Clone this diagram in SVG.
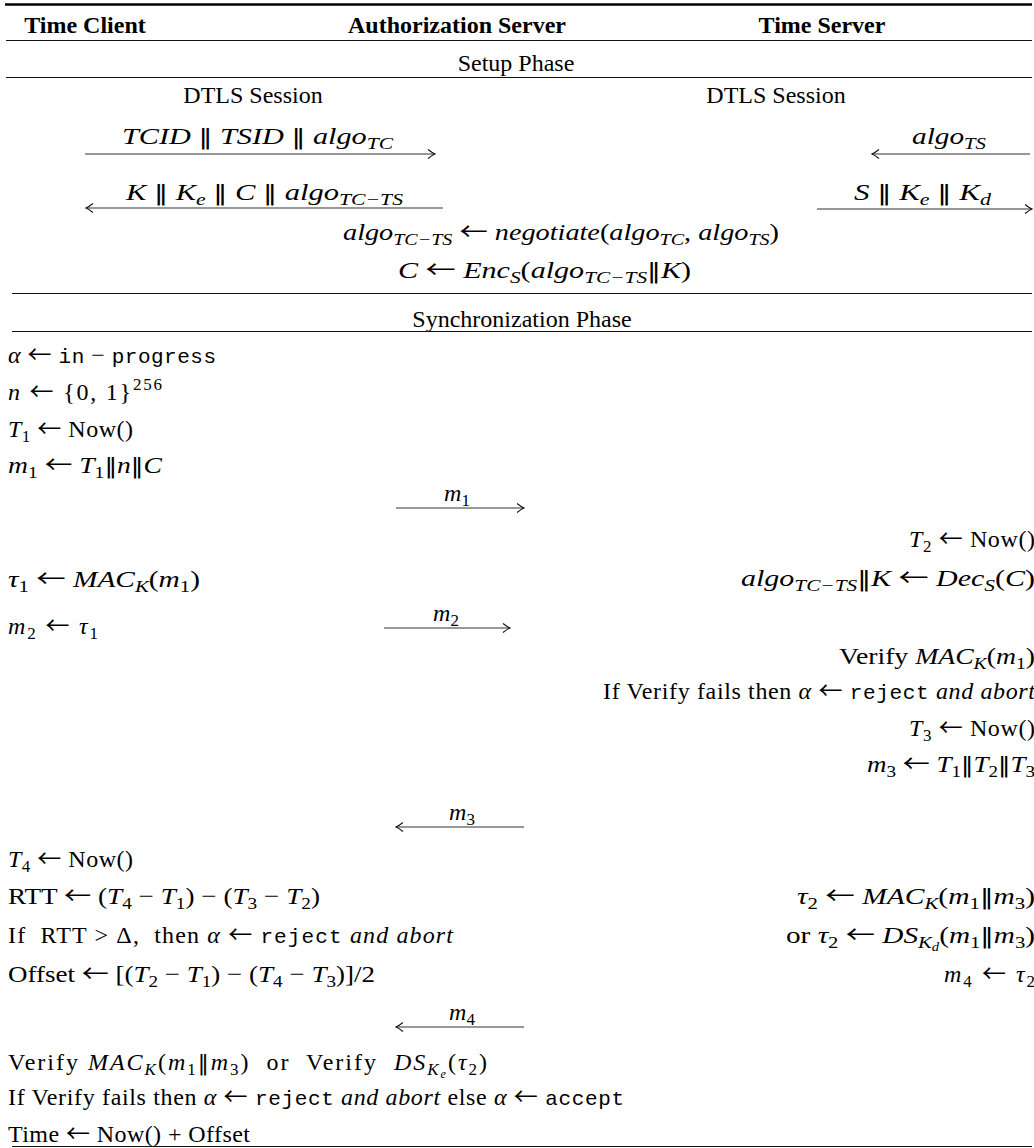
<svg xmlns="http://www.w3.org/2000/svg" width="1034" height="1148" viewBox="0 0 1034 1148">
<defs>
<style>
.t{font-family:"Liberation Serif","DejaVu Serif",serif;font-size:24px;fill:#000}
.i{font-style:italic}
.u{font-style:normal}
.h{font-weight:bold}
.tt{font-family:"Liberation Mono","DejaVu Sans Mono",monospace;font-size:21px;font-style:normal}
.sb{font-size:17px}
.ss{font-size:12px}
.ar{font-family:"Noto Sans CJK SC","DejaVu Sans",sans-serif;font-style:normal;font-size:24px}
.op{font-family:"DejaVu Sans",sans-serif;font-style:normal;font-size:22px}
.end{text-anchor:end}
.mid{text-anchor:middle}
.rule{stroke:#111;stroke-width:1.2}
.arr{stroke:#333;stroke-width:1.2;fill:none;marker-end:url(#ah)}
</style>
<marker id="ah" viewBox="-9 -6 10 12" refX="0" refY="0" markerWidth="10" markerHeight="12" markerUnits="userSpaceOnUse" orient="auto">
<path d="M-7,-4.5 Q-2.5,-1 0,0 Q-2.5,1 -7,4.5" fill="none" stroke="#111" stroke-width="1.1"/>
</marker>
</defs>
<rect x="0" y="0" width="1034" height="1148" fill="#fff"/>

<g id="rules">
<line x1="5" y1="4.5" x2="1032" y2="4.5" stroke="#000" stroke-width="2.4"/>
<line class="rule" x1="6" y1="40.5" x2="1032" y2="40.5"/>
<line class="rule" x1="6" y1="77.5" x2="1032" y2="77.5"/>
<line class="rule" x1="12" y1="293.5" x2="1032" y2="293.5"/>
<line class="rule" x1="12" y1="331.5" x2="1032" y2="331.5"/>
<line class="rule" x1="12" y1="1146.5" x2="1032" y2="1146.5"/>
</g>

<g id="header">
<text id="time-client" class="t h mid" x="85" y="33">Time Client</text>
<text id="authorization-server" class="t h mid" x="457" y="33">Authorization Server</text>
<text id="time-server" class="t h mid" x="822" y="33">Time Server</text>
</g>

<g id="setup-phase">
<text class="t mid" x="516" y="71">Setup Phase</text>
<text class="t mid" x="253" y="103">DTLS Session</text>
<text class="t mid" x="776" y="103">DTLS Session</text>
<text class="t i" x="122" y="144" textLength="271" lengthAdjust="spacingAndGlyphs">TCID <tspan class="op">‖</tspan> TSID <tspan class="op">‖</tspan> algo<tspan class="sb" dy="5">TC</tspan></text>
<text class="t i" x="126" y="200" textLength="277" lengthAdjust="spacingAndGlyphs">K <tspan class="op">‖</tspan> K<tspan class="sb" dy="5">e</tspan><tspan dy="-5"> </tspan><tspan class="op">‖</tspan> C <tspan class="op">‖</tspan> algo<tspan class="sb" dy="5">TC−TS</tspan></text>
<text class="t i" x="912" y="144" textLength="74" lengthAdjust="spacingAndGlyphs">algo<tspan class="sb" dy="5">TS</tspan></text>
<text class="t i" x="854" y="200" textLength="137" lengthAdjust="spacingAndGlyphs">S <tspan class="op">‖</tspan> K<tspan class="sb" dy="5">e</tspan><tspan dy="-5"> </tspan><tspan class="op">‖</tspan> K<tspan class="sb" dy="5">d</tspan></text>
<text class="t i" x="343" y="240" textLength="436" lengthAdjust="spacingAndGlyphs">algo<tspan class="sb" dy="5">TC−TS</tspan><tspan dy="-5"> </tspan><tspan class="ar">←</tspan> negotiate<tspan class="u">(</tspan>algo<tspan class="sb" dy="5">TC</tspan><tspan dy="-5" class="u">, </tspan>algo<tspan class="sb" dy="5">TS</tspan><tspan dy="-5" class="u">)</tspan></text>
<text class="t i" x="398" y="278" textLength="293" lengthAdjust="spacingAndGlyphs">C <tspan class="ar">←</tspan> Enc<tspan class="sb" dy="5">S</tspan><tspan class="u" dy="-5">(</tspan>algo<tspan class="sb" dy="5">TC−TS</tspan><tspan class="op" dy="-5">‖</tspan>K<tspan class="u">)</tspan></text>
</g>

<g id="sync-phase-title">
<text class="t mid" x="522" y="327">Synchronization Phase</text>
</g>

<g id="time-client-steps">
<text class="t i" x="8" y="363" textLength="208">α <tspan class="ar">←</tspan> <tspan class="tt">in</tspan><tspan class="u"> − </tspan><tspan class="tt">progress</tspan></text>
<text class="t i" x="8" y="400" textLength="154">n <tspan class="ar">←</tspan><tspan class="u"> {0, 1}</tspan><tspan class="u sb" dy="-10">256</tspan></text>
<text class="t i" x="8" y="437" textLength="125">T<tspan class="u sb" dy="5">1</tspan><tspan class="u" dy="-5"> <tspan class="ar">←</tspan> Now()</tspan></text>
<text class="t i" x="8" y="473" textLength="154" lengthAdjust="spacingAndGlyphs">m<tspan class="u sb" dy="5">1</tspan><tspan class="u" dy="-5"> <tspan class="ar">←</tspan> </tspan>T<tspan class="u sb" dy="5">1</tspan><tspan class="op" dy="-5">‖</tspan>n<tspan class="op">‖</tspan>C</text>
<text class="t i" x="8" y="587" textLength="192" lengthAdjust="spacingAndGlyphs">τ<tspan class="u sb" dy="5">1</tspan><tspan class="u" dy="-5"> <tspan class="ar">←</tspan> </tspan>MAC<tspan class="sb" dy="5">K</tspan><tspan class="u" dy="-5">(</tspan>m<tspan class="u sb" dy="5">1</tspan><tspan class="u" dy="-5">)</tspan></text>
<text class="t i" x="8" y="634" textLength="90">m<tspan class="u sb" dy="5">2</tspan><tspan class="u" dy="-5"> <tspan class="ar">←</tspan> </tspan>τ<tspan class="u sb" dy="5">1</tspan></text>
<text class="t i" x="8" y="867" textLength="125">T<tspan class="u sb" dy="5">4</tspan><tspan class="u" dy="-5"> <tspan class="ar">←</tspan> Now()</tspan></text>
<text class="t" x="8" y="904" textLength="312" lengthAdjust="spacingAndGlyphs">RTT <tspan class="ar">←</tspan> (<tspan class="i">T</tspan><tspan class="sb" dy="5">4</tspan><tspan dy="-5"> − </tspan><tspan class="i">T</tspan><tspan class="sb" dy="5">1</tspan><tspan dy="-5">) − (</tspan><tspan class="i">T</tspan><tspan class="sb" dy="5">3</tspan><tspan dy="-5"> − </tspan><tspan class="i">T</tspan><tspan class="sb" dy="5">2</tspan><tspan dy="-5">)</tspan></text>
<text class="t" x="8" y="943" textLength="445" xml:space="preserve">If  RTT &gt; Δ,  then <tspan class="i">α</tspan> <tspan class="ar">←</tspan> <tspan class="tt">reject</tspan> <tspan class="i">and abort</tspan></text>
<text class="t" x="8" y="982" textLength="367" lengthAdjust="spacingAndGlyphs">Offset <tspan class="ar">←</tspan> [(<tspan class="i">T</tspan><tspan class="sb" dy="5">2</tspan><tspan dy="-5"> − </tspan><tspan class="i">T</tspan><tspan class="sb" dy="5">1</tspan><tspan dy="-5">) − (</tspan><tspan class="i">T</tspan><tspan class="sb" dy="5">4</tspan><tspan dy="-5"> − </tspan><tspan class="i">T</tspan><tspan class="sb" dy="5">3</tspan><tspan dy="-5">)]/2</tspan></text>
<text class="t" x="8" y="1070" textLength="479" xml:space="preserve">Verify <tspan class="i">MAC</tspan><tspan class="i sb" dy="5">K</tspan><tspan dy="-5">(</tspan><tspan class="i">m</tspan><tspan class="sb" dy="5">1</tspan><tspan class="op" dy="-5">‖</tspan><tspan class="i">m</tspan><tspan class="sb" dy="5">3</tspan><tspan dy="-5">)  or  Verify  </tspan><tspan class="i">DS</tspan><tspan class="i sb" dy="5">K</tspan><tspan class="i ss" dy="3">e</tspan><tspan dy="-8">(</tspan><tspan class="i">τ</tspan><tspan class="sb" dy="5">2</tspan><tspan dy="-5">)</tspan></text>
<text class="t" x="8" y="1105" textLength="616">If Verify fails then <tspan class="i">α</tspan> <tspan class="ar">←</tspan> <tspan class="tt">reject</tspan> <tspan class="i">and abort</tspan> else <tspan class="i">α</tspan> <tspan class="ar">←</tspan> <tspan class="tt">accept</tspan></text>
<text class="t" x="8" y="1142" textLength="242">Time <tspan class="ar">←</tspan> Now() + Offset</text>
</g>

<g id="time-server-steps">
<text class="t i end" x="1035" y="547" textLength="126">T<tspan class="u sb" dy="5">2</tspan><tspan class="u" dy="-5"> <tspan class="ar">←</tspan> Now()</tspan></text>
<text class="t i end" x="1035" y="586" textLength="294" lengthAdjust="spacingAndGlyphs">algo<tspan class="sb" dy="5">TC−TS</tspan><tspan class="op" dy="-5">‖</tspan>K <tspan class="ar">←</tspan> Dec<tspan class="sb" dy="5">S</tspan><tspan class="u" dy="-5">(</tspan>C<tspan class="u">)</tspan></text>
<text class="t end" x="1035" y="664" textLength="196" lengthAdjust="spacingAndGlyphs">Verify <tspan class="i">MAC</tspan><tspan class="i sb" dy="5">K</tspan><tspan dy="-5">(</tspan><tspan class="i">m</tspan><tspan class="sb" dy="5">1</tspan><tspan dy="-5">)</tspan></text>
<text class="t end" x="1035" y="699" textLength="432">If Verify fails then <tspan class="i">α</tspan> <tspan class="ar">←</tspan> <tspan class="tt">reject</tspan> <tspan class="i">and abort</tspan></text>
<text class="t i end" x="1035" y="736" textLength="126">T<tspan class="u sb" dy="5">3</tspan><tspan class="u" dy="-5"> <tspan class="ar">←</tspan> Now()</tspan></text>
<text class="t i end" x="1035" y="772" textLength="168" lengthAdjust="spacingAndGlyphs">m<tspan class="u sb" dy="5">3</tspan><tspan class="u" dy="-5"> <tspan class="ar">←</tspan> </tspan>T<tspan class="u sb" dy="5">1</tspan><tspan class="op" dy="-5">‖</tspan>T<tspan class="u sb" dy="5">2</tspan><tspan class="op" dy="-5">‖</tspan>T<tspan class="u sb" dy="5">3</tspan></text>
<text class="t i end" x="1035" y="904" textLength="238" lengthAdjust="spacingAndGlyphs">τ<tspan class="u sb" dy="5">2</tspan><tspan class="u" dy="-5"> <tspan class="ar">←</tspan> </tspan>MAC<tspan class="sb" dy="5">K</tspan><tspan class="u" dy="-5">(</tspan>m<tspan class="u sb" dy="5">1</tspan><tspan class="op" dy="-5">‖</tspan>m<tspan class="u sb" dy="5">3</tspan><tspan class="u" dy="-5">)</tspan></text>
<text class="t end" x="1035" y="943" textLength="249" lengthAdjust="spacingAndGlyphs">or <tspan class="i">τ</tspan><tspan class="sb" dy="5">2</tspan><tspan dy="-5"> <tspan class="ar">←</tspan> </tspan><tspan class="i">DS</tspan><tspan class="i sb" dy="5">K</tspan><tspan class="i ss" dy="3">d</tspan><tspan dy="-8">(</tspan><tspan class="i">m</tspan><tspan class="sb" dy="5">1</tspan><tspan class="op" dy="-5">‖</tspan><tspan class="i">m</tspan><tspan class="sb" dy="5">3</tspan><tspan dy="-5">)</tspan></text>
<text class="t i end" x="1035" y="982" textLength="91">m<tspan class="u sb" dy="5">4</tspan><tspan class="u" dy="-5"> <tspan class="ar">←</tspan> </tspan>τ<tspan class="u sb" dy="5">2</tspan></text>
</g>

<g id="connectors">
<line class="arr" x1="85" y1="154" x2="435" y2="154"/>
<line class="arr" x1="443" y1="208" x2="86" y2="208"/>
<line class="arr" x1="1030" y1="154" x2="872" y2="154"/>
<line class="arr" x1="817" y1="209" x2="1032" y2="209"/>
<line class="arr" x1="396" y1="508" x2="524" y2="508"/>
<line class="arr" x1="384" y1="628" x2="510" y2="628"/>
<line class="arr" x1="524" y1="827" x2="396" y2="827"/>
<line class="arr" x1="524" y1="1027" x2="396" y2="1027"/>
<text class="t i mid" x="457" y="501">m<tspan class="u sb" dy="5">1</tspan></text>
<text class="t i mid" x="446" y="621">m<tspan class="u sb" dy="5">2</tspan></text>
<text class="t i mid" x="462" y="820">m<tspan class="u sb" dy="5">3</tspan></text>
<text class="t i mid" x="462" y="1020">m<tspan class="u sb" dy="5">4</tspan></text>
</g>
</svg>
